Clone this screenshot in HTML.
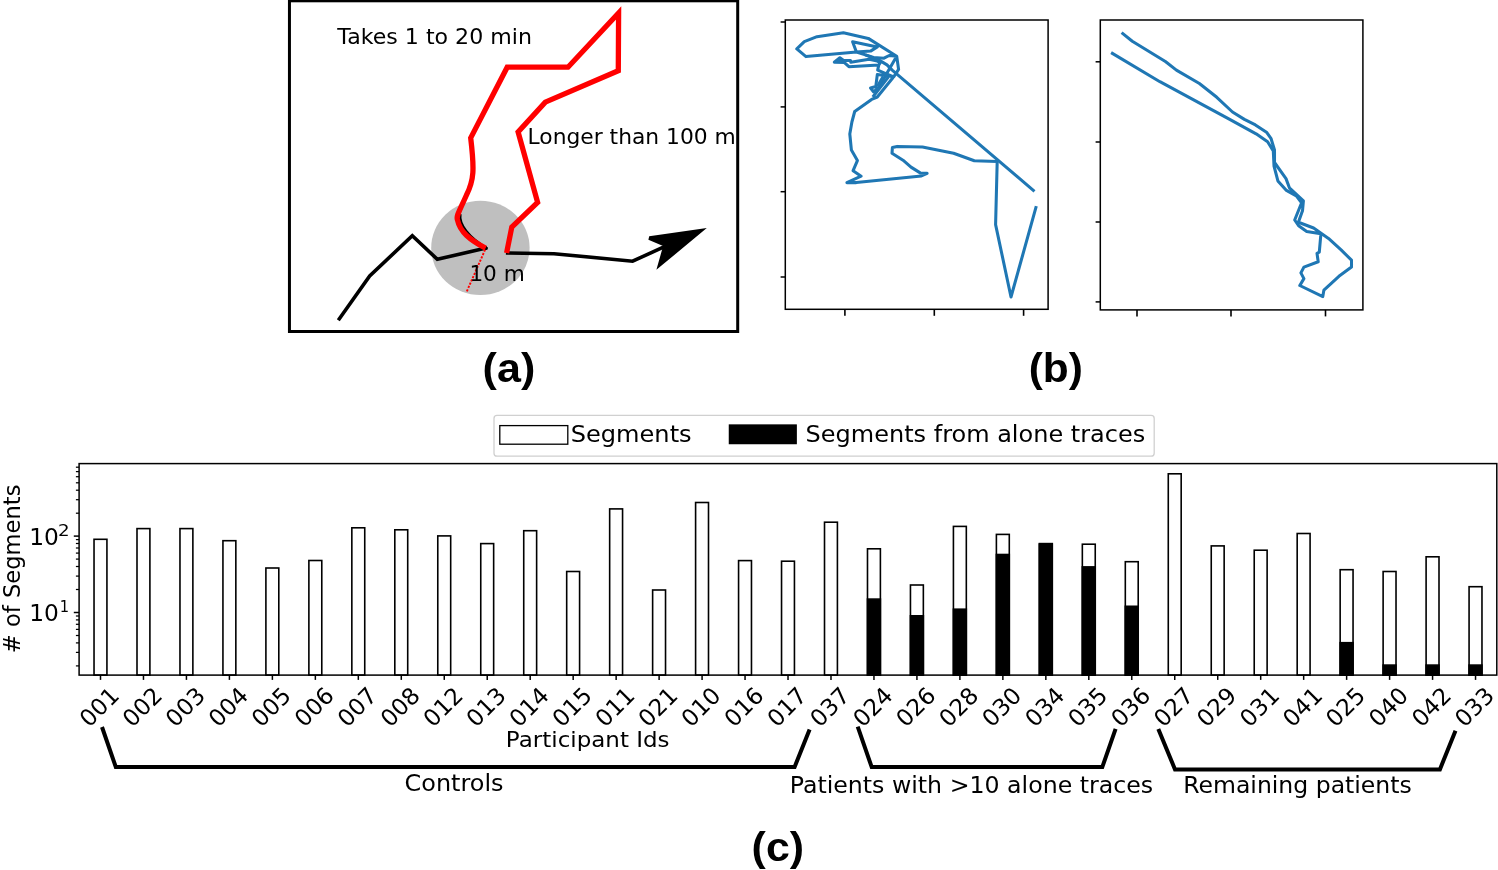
<!DOCTYPE html>
<html lang="en">
<head>
<meta charset="utf-8">
<title>Figure: segment extraction, example traces and number of segments per participant</title>
<style>
html, body { margin: 0; padding: 0; background: #fff; }
body { width: 1498px; height: 870px; overflow: hidden; }
svg { display: block; }
text { white-space: pre; }
</style>
</head>
<body>
<svg width="1498" height="870" viewBox="0 0 1498 870">
<rect x="0" y="0" width="1498" height="870" fill="#fff"/>
<g id="panel-a">
<rect x="289.45" y="0.8" width="448.25" height="330.7" fill="#fff" stroke="#000" stroke-width="3"/>
<ellipse cx="480.4" cy="247.85" rx="49.2" ry="47.15" fill="#bfbfbf"/>
<polyline fill="none" stroke="#000" stroke-width="3.6" stroke-linejoin="miter" points="338.3,320.2 369.7,276.0 412.3,235.7 437.3,259.3 487.2,247.8"/>
<polyline fill="none" stroke="#000" stroke-width="3.6" stroke-linejoin="miter" points="505.9,252.9 554.0,253.7 632.6,261.2 665.0,246.4"/>
<polygon fill="#000" points="706.8,228.1 649.2,236.2 648.4,239.8 663.1,246.0 656.4,269.8"/>
<path fill="none" stroke="#000" stroke-width="2.6" d="M460.3,214 C458.6,224.4 468.6,237.4 487.5,248.8"/>
<path fill="none" stroke="#f00" stroke-width="5.3" stroke-linejoin="miter" stroke-miterlimit="6" d="M485.6,248.2 C470,240 460,232 457.5,220 C456,216 459,212 466.5,195 C474,180 474.5,170 470.7,137.9 L507.2,67.2 L568,67.2 L618.6,13 L618.3,70.7 L545.3,102.1 L518.1,132 L537.6,202.4 L511.8,227 L506.6,252.9"/>
<line x1="485.1" y1="249.7" x2="466.8" y2="291.4" stroke="#f00" stroke-width="1.9" stroke-dasharray="2.2,1.4"/>
<text transform="translate(337.30,44.00) scale(1.0527,1)" font-family='"DejaVu Sans", "Liberation Sans", sans-serif' font-size="21px" fill="#000">Takes 1 to 20 min</text>
<text transform="translate(527.62,144.00) scale(1.0379,1)" font-family='"DejaVu Sans", "Liberation Sans", sans-serif' font-size="21px" fill="#000">Longer than 100 m</text>
<text transform="translate(469.38,280.80) scale(1.0291,1)" font-family='"DejaVu Sans", "Liberation Sans", sans-serif' font-size="21px" fill="#000">10 m</text>
<text transform="translate(482.61,381.80) scale(1.0430,1)" font-family='"Liberation Sans", "DejaVu Sans", sans-serif' font-weight="bold" font-size="41.3px" fill="#000">(a)</text>
</g>
<g id="panel-b">
<rect x="785.3" y="20.0" width="262.8" height="289.3" fill="#fff" stroke="#000" stroke-width="1.5"/>
<line x1="844.9" y1="309.3" x2="844.9" y2="315.8" stroke="#000" stroke-width="1.6"/>
<line x1="934.3" y1="309.3" x2="934.3" y2="315.8" stroke="#000" stroke-width="1.6"/>
<line x1="1023.6" y1="309.3" x2="1023.6" y2="315.8" stroke="#000" stroke-width="1.6"/>
<line x1="780.6" y1="22.0" x2="785.3" y2="22.0" stroke="#000" stroke-width="1.5"/>
<line x1="780.6" y1="106.9" x2="785.3" y2="106.9" stroke="#000" stroke-width="1.5"/>
<line x1="780.6" y1="191.7" x2="785.3" y2="191.7" stroke="#000" stroke-width="1.5"/>
<line x1="780.6" y1="277.0" x2="785.3" y2="277.0" stroke="#000" stroke-width="1.5"/>
<rect x="1100.3" y="20.0" width="262.6" height="289.9" fill="#fff" stroke="#000" stroke-width="1.5"/>
<line x1="1137.0" y1="309.9" x2="1137.0" y2="316.4" stroke="#000" stroke-width="1.6"/>
<line x1="1231.0" y1="309.9" x2="1231.0" y2="316.4" stroke="#000" stroke-width="1.6"/>
<line x1="1325.5" y1="309.9" x2="1325.5" y2="316.4" stroke="#000" stroke-width="1.6"/>
<line x1="1095.6" y1="61.8" x2="1100.3" y2="61.8" stroke="#000" stroke-width="1.5"/>
<line x1="1095.6" y1="142.0" x2="1100.3" y2="142.0" stroke="#000" stroke-width="1.5"/>
<line x1="1095.6" y1="222.0" x2="1100.3" y2="222.0" stroke="#000" stroke-width="1.5"/>
<line x1="1095.6" y1="301.9" x2="1100.3" y2="301.9" stroke="#000" stroke-width="1.5"/>
<polyline fill="none" stroke="#1f77b4" stroke-width="3.05" stroke-linejoin="round" stroke-linecap="butt" points="1036.3,206.2 1011.0,297.0 995.6,224.6 997.2,161.4 974.3,160.7 953.6,153.3 922.5,147.1 897.2,146.4 892.4,147.6 892.0,153.3 903.0,160.2 911.0,167.1 920.2,172.9 927.1,173.3 921.4,175.9 856.3,182.6 846.9,182.6 861.1,176.2 853.1,170.7 857.4,160.6 851.4,150.1 849.8,134.0 851.9,122.0 854.7,111.5 871.6,99.4 877.3,97.0 893.7,76.8 898.6,69.4 896.7,56.3 868.3,38.4 843.4,32.8 817.0,36.7 804.3,41.6 796.8,48.9 806.0,56.6 856.4,52.0 870.6,51.1 877.3,46.9 852.6,41.7 856.4,52.0 873.5,57.4 884.0,58.2 889.2,55.5 896.7,56.3 878.8,87.3 873.5,91.8 870.6,88.0 875.8,86.5 877.3,74.6 893.7,76.8 884.7,73.1 877.7,70.1 878.8,64.9 848.9,66.7 844.4,62.6 834.3,62.3 839.9,57.8 843.7,60.4 850.4,60.4 850.8,62.3 869.1,59.3 877.3,61.1 880.3,62.6 878.8,64.9"/>
<polyline fill="none" stroke="#1f77b4" stroke-width="3.05" stroke-linejoin="round" stroke-linecap="butt" points="865.3,54.8 879.5,60.4 887.0,64.9 892.2,70.1 1034.5,191.3"/>
<polyline fill="none" stroke="#1f77b4" stroke-width="3.05" stroke-linejoin="round" stroke-linecap="butt" points="888.5,76.8 880.3,87.3 872.8,97.0"/>
<polyline fill="none" stroke="#1f77b4" stroke-width="3.05" stroke-linejoin="round" stroke-linecap="butt" points="883.3,76.4 877.3,86.5"/>
<polygon fill="#1f77b4" points="834.3,62.3 839.9,57.8 844.4,62.6"/>
<polyline fill="none" stroke="#1f77b4" stroke-width="3.05" stroke-linejoin="round" stroke-linecap="butt" points="1121.6,32.6 1132.3,41.2 1165.4,61.5 1176.4,70.1 1199.4,83.5 1216.8,97.3 1232.5,112.0 1244.4,119.4 1255.4,124.9 1266.5,132.2 1271.1,138.7 1274.5,149.9 1274.5,162.5 1286.0,178.6 1289.4,187.8 1303.4,200.9 1302.5,210.8 1298.4,222.3 1313.6,228.0 1328.5,238.4 1341.1,249.9 1351.5,260.2 1351.5,267.1 1338.9,276.3 1323.9,290.1 1322.8,296.6 1299.8,285.5 1303.9,278.6 1300.9,272.9 1303.9,267.1 1318.2,261.8 1317.0,253.3 1319.3,252.2 1320.9,233.8 1306.7,231.5 1298.6,225.7 1294.7,220.0 1301.6,202.8 1296.3,195.9 1286.0,190.1 1277.9,180.9 1274.0,166.0 1273.3,151.0 1267.6,141.8 1256.1,133.8 1229.7,119.4 1159.9,81.7 1111.1,52.6"/>
<text transform="translate(1028.64,381.80) scale(1.0277,1)" font-family='"Liberation Sans", "DejaVu Sans", sans-serif' font-weight="bold" font-size="41.3px" fill="#000">(b)</text>
</g>
<g id="panel-c">
<rect x="79.1" y="463.6" width="1417.7" height="211.5" fill="#fff" stroke="none"/>
<rect x="94.03" y="539.3" width="12.9" height="135.8" fill="#fff" stroke="#000" stroke-width="1.6"/>
<rect x="137.00" y="528.6" width="12.9" height="146.5" fill="#fff" stroke="#000" stroke-width="1.6"/>
<rect x="179.97" y="528.6" width="12.9" height="146.5" fill="#fff" stroke="#000" stroke-width="1.6"/>
<rect x="222.94" y="540.7" width="12.9" height="134.4" fill="#fff" stroke="#000" stroke-width="1.6"/>
<rect x="265.90" y="568.0" width="12.9" height="107.1" fill="#fff" stroke="#000" stroke-width="1.6"/>
<rect x="308.88" y="560.5" width="12.9" height="114.6" fill="#fff" stroke="#000" stroke-width="1.6"/>
<rect x="351.84" y="527.8" width="12.9" height="147.3" fill="#fff" stroke="#000" stroke-width="1.6"/>
<rect x="394.81" y="529.8" width="12.9" height="145.3" fill="#fff" stroke="#000" stroke-width="1.6"/>
<rect x="437.78" y="535.9" width="12.9" height="139.2" fill="#fff" stroke="#000" stroke-width="1.6"/>
<rect x="480.75" y="543.6" width="12.9" height="131.5" fill="#fff" stroke="#000" stroke-width="1.6"/>
<rect x="523.73" y="530.7" width="12.9" height="144.4" fill="#fff" stroke="#000" stroke-width="1.6"/>
<rect x="566.69" y="571.5" width="12.9" height="103.6" fill="#fff" stroke="#000" stroke-width="1.6"/>
<rect x="609.66" y="508.9" width="12.9" height="166.2" fill="#fff" stroke="#000" stroke-width="1.6"/>
<rect x="652.63" y="590.0" width="12.9" height="85.1" fill="#fff" stroke="#000" stroke-width="1.6"/>
<rect x="695.60" y="502.5" width="12.9" height="172.6" fill="#fff" stroke="#000" stroke-width="1.6"/>
<rect x="738.57" y="560.6" width="12.9" height="114.5" fill="#fff" stroke="#000" stroke-width="1.6"/>
<rect x="781.54" y="561.2" width="12.9" height="113.9" fill="#fff" stroke="#000" stroke-width="1.6"/>
<rect x="824.51" y="522.2" width="12.9" height="152.9" fill="#fff" stroke="#000" stroke-width="1.6"/>
<rect x="867.49" y="548.8" width="12.9" height="126.3" fill="#fff" stroke="#000" stroke-width="1.6"/>
<rect x="867.49" y="599.1" width="12.9" height="76.0" fill="#000" stroke="#000" stroke-width="1.6"/>
<rect x="910.45" y="585.0" width="12.9" height="90.1" fill="#fff" stroke="#000" stroke-width="1.6"/>
<rect x="910.45" y="615.8" width="12.9" height="59.3" fill="#000" stroke="#000" stroke-width="1.6"/>
<rect x="953.42" y="526.4" width="12.9" height="148.7" fill="#fff" stroke="#000" stroke-width="1.6"/>
<rect x="953.42" y="609.2" width="12.9" height="65.9" fill="#000" stroke="#000" stroke-width="1.6"/>
<rect x="996.39" y="534.4" width="12.9" height="140.7" fill="#fff" stroke="#000" stroke-width="1.6"/>
<rect x="996.39" y="554.5" width="12.9" height="120.6" fill="#000" stroke="#000" stroke-width="1.6"/>
<rect x="1039.37" y="543.6" width="12.9" height="131.5" fill="#fff" stroke="#000" stroke-width="1.6"/>
<rect x="1039.37" y="544.2" width="12.9" height="130.9" fill="#000" stroke="#000" stroke-width="1.6"/>
<rect x="1082.34" y="544.2" width="12.9" height="130.9" fill="#fff" stroke="#000" stroke-width="1.6"/>
<rect x="1082.34" y="566.9" width="12.9" height="108.2" fill="#000" stroke="#000" stroke-width="1.6"/>
<rect x="1125.31" y="561.7" width="12.9" height="113.4" fill="#fff" stroke="#000" stroke-width="1.6"/>
<rect x="1125.31" y="606.3" width="12.9" height="68.8" fill="#000" stroke="#000" stroke-width="1.6"/>
<rect x="1168.28" y="473.8" width="12.9" height="201.3" fill="#fff" stroke="#000" stroke-width="1.6"/>
<rect x="1211.25" y="545.9" width="12.9" height="129.2" fill="#fff" stroke="#000" stroke-width="1.6"/>
<rect x="1254.22" y="550.2" width="12.9" height="124.9" fill="#fff" stroke="#000" stroke-width="1.6"/>
<rect x="1297.18" y="533.5" width="12.9" height="141.6" fill="#fff" stroke="#000" stroke-width="1.6"/>
<rect x="1340.15" y="569.7" width="12.9" height="105.4" fill="#fff" stroke="#000" stroke-width="1.6"/>
<rect x="1340.15" y="642.7" width="12.9" height="32.4" fill="#000" stroke="#000" stroke-width="1.6"/>
<rect x="1383.12" y="571.5" width="12.9" height="103.6" fill="#fff" stroke="#000" stroke-width="1.6"/>
<rect x="1383.12" y="665.1" width="12.9" height="10.0" fill="#000" stroke="#000" stroke-width="1.6"/>
<rect x="1426.10" y="556.8" width="12.9" height="118.3" fill="#fff" stroke="#000" stroke-width="1.6"/>
<rect x="1426.10" y="665.1" width="12.9" height="10.0" fill="#000" stroke="#000" stroke-width="1.6"/>
<rect x="1469.07" y="586.7" width="12.9" height="88.4" fill="#fff" stroke="#000" stroke-width="1.6"/>
<rect x="1469.07" y="665.1" width="12.9" height="10.0" fill="#000" stroke="#000" stroke-width="1.6"/>
<rect x="79.1" y="463.6" width="1417.7" height="211.5" fill="none" stroke="#000" stroke-width="1.5"/>
<line x1="73.8" y1="612.5" x2="79.1" y2="612.5" stroke="#000" stroke-width="1.5"/>
<text transform="translate(29.27,621.20) scale(1.0515,1)" font-family='"DejaVu Sans", "Liberation Sans", sans-serif' font-size="22.2px" fill="#000">10</text>
<text transform="translate(59.63,612.20) scale(0.9538,1)" font-family='"DejaVu Sans", "Liberation Sans", sans-serif' font-size="15.4px" fill="#000">1</text>
<line x1="73.8" y1="536.1" x2="79.1" y2="536.1" stroke="#000" stroke-width="1.5"/>
<text transform="translate(29.27,544.85) scale(1.0515,1)" font-family='"DejaVu Sans", "Liberation Sans", sans-serif' font-size="22.2px" fill="#000">10</text>
<text transform="translate(58.12,535.85) scale(1.1857,1)" font-family='"DejaVu Sans", "Liberation Sans", sans-serif' font-size="15.4px" fill="#000">2</text>
<line x1="75.9" y1="665.9" x2="79.1" y2="665.9" stroke="#000" stroke-width="1.25"/>
<line x1="75.9" y1="652.4" x2="79.1" y2="652.4" stroke="#000" stroke-width="1.25"/>
<line x1="75.9" y1="642.9" x2="79.1" y2="642.9" stroke="#000" stroke-width="1.25"/>
<line x1="75.9" y1="635.5" x2="79.1" y2="635.5" stroke="#000" stroke-width="1.25"/>
<line x1="75.9" y1="629.4" x2="79.1" y2="629.4" stroke="#000" stroke-width="1.25"/>
<line x1="75.9" y1="624.3" x2="79.1" y2="624.3" stroke="#000" stroke-width="1.25"/>
<line x1="75.9" y1="619.9" x2="79.1" y2="619.9" stroke="#000" stroke-width="1.25"/>
<line x1="75.9" y1="616.0" x2="79.1" y2="616.0" stroke="#000" stroke-width="1.25"/>
<line x1="75.9" y1="589.5" x2="79.1" y2="589.5" stroke="#000" stroke-width="1.25"/>
<line x1="75.9" y1="576.1" x2="79.1" y2="576.1" stroke="#000" stroke-width="1.25"/>
<line x1="75.9" y1="566.5" x2="79.1" y2="566.5" stroke="#000" stroke-width="1.25"/>
<line x1="75.9" y1="559.1" x2="79.1" y2="559.1" stroke="#000" stroke-width="1.25"/>
<line x1="75.9" y1="553.1" x2="79.1" y2="553.1" stroke="#000" stroke-width="1.25"/>
<line x1="75.9" y1="548.0" x2="79.1" y2="548.0" stroke="#000" stroke-width="1.25"/>
<line x1="75.9" y1="543.5" x2="79.1" y2="543.5" stroke="#000" stroke-width="1.25"/>
<line x1="75.9" y1="539.6" x2="79.1" y2="539.6" stroke="#000" stroke-width="1.25"/>
<line x1="75.9" y1="513.2" x2="79.1" y2="513.2" stroke="#000" stroke-width="1.25"/>
<line x1="75.9" y1="499.7" x2="79.1" y2="499.7" stroke="#000" stroke-width="1.25"/>
<line x1="75.9" y1="490.2" x2="79.1" y2="490.2" stroke="#000" stroke-width="1.25"/>
<line x1="75.9" y1="482.8" x2="79.1" y2="482.8" stroke="#000" stroke-width="1.25"/>
<line x1="75.9" y1="476.7" x2="79.1" y2="476.7" stroke="#000" stroke-width="1.25"/>
<line x1="75.9" y1="471.6" x2="79.1" y2="471.6" stroke="#000" stroke-width="1.25"/>
<line x1="75.9" y1="467.2" x2="79.1" y2="467.2" stroke="#000" stroke-width="1.25"/>
<line x1="100.50" y1="675.1" x2="100.50" y2="679.9" stroke="#000" stroke-width="1.5"/>
<text transform="translate(105.00,712.6) rotate(-45)" text-anchor="middle" font-family='"DejaVu Sans", "Liberation Sans", sans-serif' font-size="23.2px" fill="#000">001</text>
<line x1="143.47" y1="675.1" x2="143.47" y2="679.9" stroke="#000" stroke-width="1.5"/>
<text transform="translate(147.97,712.6) rotate(-45)" text-anchor="middle" font-family='"DejaVu Sans", "Liberation Sans", sans-serif' font-size="23.2px" fill="#000">002</text>
<line x1="186.44" y1="675.1" x2="186.44" y2="679.9" stroke="#000" stroke-width="1.5"/>
<text transform="translate(190.94,712.6) rotate(-45)" text-anchor="middle" font-family='"DejaVu Sans", "Liberation Sans", sans-serif' font-size="23.2px" fill="#000">003</text>
<line x1="229.41" y1="675.1" x2="229.41" y2="679.9" stroke="#000" stroke-width="1.5"/>
<text transform="translate(233.91,712.6) rotate(-45)" text-anchor="middle" font-family='"DejaVu Sans", "Liberation Sans", sans-serif' font-size="23.2px" fill="#000">004</text>
<line x1="272.38" y1="675.1" x2="272.38" y2="679.9" stroke="#000" stroke-width="1.5"/>
<text transform="translate(276.88,712.6) rotate(-45)" text-anchor="middle" font-family='"DejaVu Sans", "Liberation Sans", sans-serif' font-size="23.2px" fill="#000">005</text>
<line x1="315.35" y1="675.1" x2="315.35" y2="679.9" stroke="#000" stroke-width="1.5"/>
<text transform="translate(319.85,712.6) rotate(-45)" text-anchor="middle" font-family='"DejaVu Sans", "Liberation Sans", sans-serif' font-size="23.2px" fill="#000">006</text>
<line x1="358.32" y1="675.1" x2="358.32" y2="679.9" stroke="#000" stroke-width="1.5"/>
<text transform="translate(362.82,712.6) rotate(-45)" text-anchor="middle" font-family='"DejaVu Sans", "Liberation Sans", sans-serif' font-size="23.2px" fill="#000">007</text>
<line x1="401.29" y1="675.1" x2="401.29" y2="679.9" stroke="#000" stroke-width="1.5"/>
<text transform="translate(405.79,712.6) rotate(-45)" text-anchor="middle" font-family='"DejaVu Sans", "Liberation Sans", sans-serif' font-size="23.2px" fill="#000">008</text>
<line x1="444.26" y1="675.1" x2="444.26" y2="679.9" stroke="#000" stroke-width="1.5"/>
<text transform="translate(448.76,712.6) rotate(-45)" text-anchor="middle" font-family='"DejaVu Sans", "Liberation Sans", sans-serif' font-size="23.2px" fill="#000">012</text>
<line x1="487.23" y1="675.1" x2="487.23" y2="679.9" stroke="#000" stroke-width="1.5"/>
<text transform="translate(491.73,712.6) rotate(-45)" text-anchor="middle" font-family='"DejaVu Sans", "Liberation Sans", sans-serif' font-size="23.2px" fill="#000">013</text>
<line x1="530.20" y1="675.1" x2="530.20" y2="679.9" stroke="#000" stroke-width="1.5"/>
<text transform="translate(534.70,712.6) rotate(-45)" text-anchor="middle" font-family='"DejaVu Sans", "Liberation Sans", sans-serif' font-size="23.2px" fill="#000">014</text>
<line x1="573.17" y1="675.1" x2="573.17" y2="679.9" stroke="#000" stroke-width="1.5"/>
<text transform="translate(577.67,712.6) rotate(-45)" text-anchor="middle" font-family='"DejaVu Sans", "Liberation Sans", sans-serif' font-size="23.2px" fill="#000">015</text>
<line x1="616.14" y1="675.1" x2="616.14" y2="679.9" stroke="#000" stroke-width="1.5"/>
<text transform="translate(620.64,712.6) rotate(-45)" text-anchor="middle" font-family='"DejaVu Sans", "Liberation Sans", sans-serif' font-size="23.2px" fill="#000">011</text>
<line x1="659.11" y1="675.1" x2="659.11" y2="679.9" stroke="#000" stroke-width="1.5"/>
<text transform="translate(663.61,712.6) rotate(-45)" text-anchor="middle" font-family='"DejaVu Sans", "Liberation Sans", sans-serif' font-size="23.2px" fill="#000">021</text>
<line x1="702.08" y1="675.1" x2="702.08" y2="679.9" stroke="#000" stroke-width="1.5"/>
<text transform="translate(706.58,712.6) rotate(-45)" text-anchor="middle" font-family='"DejaVu Sans", "Liberation Sans", sans-serif' font-size="23.2px" fill="#000">010</text>
<line x1="745.05" y1="675.1" x2="745.05" y2="679.9" stroke="#000" stroke-width="1.5"/>
<text transform="translate(749.55,712.6) rotate(-45)" text-anchor="middle" font-family='"DejaVu Sans", "Liberation Sans", sans-serif' font-size="23.2px" fill="#000">016</text>
<line x1="788.02" y1="675.1" x2="788.02" y2="679.9" stroke="#000" stroke-width="1.5"/>
<text transform="translate(792.52,712.6) rotate(-45)" text-anchor="middle" font-family='"DejaVu Sans", "Liberation Sans", sans-serif' font-size="23.2px" fill="#000">017</text>
<line x1="830.99" y1="675.1" x2="830.99" y2="679.9" stroke="#000" stroke-width="1.5"/>
<text transform="translate(835.49,712.6) rotate(-45)" text-anchor="middle" font-family='"DejaVu Sans", "Liberation Sans", sans-serif' font-size="23.2px" fill="#000">037</text>
<line x1="873.96" y1="675.1" x2="873.96" y2="679.9" stroke="#000" stroke-width="1.5"/>
<text transform="translate(878.46,712.6) rotate(-45)" text-anchor="middle" font-family='"DejaVu Sans", "Liberation Sans", sans-serif' font-size="23.2px" fill="#000">024</text>
<line x1="916.93" y1="675.1" x2="916.93" y2="679.9" stroke="#000" stroke-width="1.5"/>
<text transform="translate(921.43,712.6) rotate(-45)" text-anchor="middle" font-family='"DejaVu Sans", "Liberation Sans", sans-serif' font-size="23.2px" fill="#000">026</text>
<line x1="959.90" y1="675.1" x2="959.90" y2="679.9" stroke="#000" stroke-width="1.5"/>
<text transform="translate(964.40,712.6) rotate(-45)" text-anchor="middle" font-family='"DejaVu Sans", "Liberation Sans", sans-serif' font-size="23.2px" fill="#000">028</text>
<line x1="1002.87" y1="675.1" x2="1002.87" y2="679.9" stroke="#000" stroke-width="1.5"/>
<text transform="translate(1007.37,712.6) rotate(-45)" text-anchor="middle" font-family='"DejaVu Sans", "Liberation Sans", sans-serif' font-size="23.2px" fill="#000">030</text>
<line x1="1045.84" y1="675.1" x2="1045.84" y2="679.9" stroke="#000" stroke-width="1.5"/>
<text transform="translate(1050.34,712.6) rotate(-45)" text-anchor="middle" font-family='"DejaVu Sans", "Liberation Sans", sans-serif' font-size="23.2px" fill="#000">034</text>
<line x1="1088.81" y1="675.1" x2="1088.81" y2="679.9" stroke="#000" stroke-width="1.5"/>
<text transform="translate(1093.31,712.6) rotate(-45)" text-anchor="middle" font-family='"DejaVu Sans", "Liberation Sans", sans-serif' font-size="23.2px" fill="#000">035</text>
<line x1="1131.78" y1="675.1" x2="1131.78" y2="679.9" stroke="#000" stroke-width="1.5"/>
<text transform="translate(1136.28,712.6) rotate(-45)" text-anchor="middle" font-family='"DejaVu Sans", "Liberation Sans", sans-serif' font-size="23.2px" fill="#000">036</text>
<line x1="1174.75" y1="675.1" x2="1174.75" y2="679.9" stroke="#000" stroke-width="1.5"/>
<text transform="translate(1179.25,712.6) rotate(-45)" text-anchor="middle" font-family='"DejaVu Sans", "Liberation Sans", sans-serif' font-size="23.2px" fill="#000">027</text>
<line x1="1217.72" y1="675.1" x2="1217.72" y2="679.9" stroke="#000" stroke-width="1.5"/>
<text transform="translate(1222.22,712.6) rotate(-45)" text-anchor="middle" font-family='"DejaVu Sans", "Liberation Sans", sans-serif' font-size="23.2px" fill="#000">029</text>
<line x1="1260.69" y1="675.1" x2="1260.69" y2="679.9" stroke="#000" stroke-width="1.5"/>
<text transform="translate(1265.19,712.6) rotate(-45)" text-anchor="middle" font-family='"DejaVu Sans", "Liberation Sans", sans-serif' font-size="23.2px" fill="#000">031</text>
<line x1="1303.66" y1="675.1" x2="1303.66" y2="679.9" stroke="#000" stroke-width="1.5"/>
<text transform="translate(1308.16,712.6) rotate(-45)" text-anchor="middle" font-family='"DejaVu Sans", "Liberation Sans", sans-serif' font-size="23.2px" fill="#000">041</text>
<line x1="1346.63" y1="675.1" x2="1346.63" y2="679.9" stroke="#000" stroke-width="1.5"/>
<text transform="translate(1351.13,712.6) rotate(-45)" text-anchor="middle" font-family='"DejaVu Sans", "Liberation Sans", sans-serif' font-size="23.2px" fill="#000">025</text>
<line x1="1389.60" y1="675.1" x2="1389.60" y2="679.9" stroke="#000" stroke-width="1.5"/>
<text transform="translate(1394.10,712.6) rotate(-45)" text-anchor="middle" font-family='"DejaVu Sans", "Liberation Sans", sans-serif' font-size="23.2px" fill="#000">040</text>
<line x1="1432.57" y1="675.1" x2="1432.57" y2="679.9" stroke="#000" stroke-width="1.5"/>
<text transform="translate(1437.07,712.6) rotate(-45)" text-anchor="middle" font-family='"DejaVu Sans", "Liberation Sans", sans-serif' font-size="23.2px" fill="#000">042</text>
<line x1="1475.54" y1="675.1" x2="1475.54" y2="679.9" stroke="#000" stroke-width="1.5"/>
<text transform="translate(1480.04,712.6) rotate(-45)" text-anchor="middle" font-family='"DejaVu Sans", "Liberation Sans", sans-serif' font-size="23.2px" fill="#000">033</text>
<text transform="translate(20.2,653.14) rotate(-90) scale(0.9964,1)" font-family='"DejaVu Sans", "Liberation Sans", sans-serif' font-size="22.7px" fill="#000"># of Segments</text>
<text transform="translate(505.85,746.55) scale(1.0454,1)" font-family='"DejaVu Sans", "Liberation Sans", sans-serif' font-size="22.0px" fill="#000">Participant Ids</text>
<rect x="494" y="415.4" width="660.2" height="40.8" rx="3" ry="3" fill="#fff" stroke="#d0d0d0" stroke-width="1.3"/>
<rect x="499.8" y="425.6" width="68" height="18.6" fill="#fff" stroke="#000" stroke-width="1.3"/>
<text transform="translate(570.69,441.60) scale(1.0761,1)" font-family='"DejaVu Sans", "Liberation Sans", sans-serif' font-size="22.4px" fill="#000">Segments</text>
<rect x="729.4" y="425" width="66.8" height="18.6" fill="#000" stroke="#000" stroke-width="1.3"/>
<text transform="translate(805.59,441.60) scale(1.0719,1)" font-family='"DejaVu Sans", "Liberation Sans", sans-serif' font-size="22.4px" fill="#000">Segments from alone traces</text>
<polyline fill="none" stroke="#000" stroke-width="4" stroke-linejoin="miter" points="102.0,727.0 115.8,767.0 794.6,767.0 809.6,729.6"/>
<polyline fill="none" stroke="#000" stroke-width="4" stroke-linejoin="miter" points="857.7,726.7 871.7,767.1 1102.3,767.1 1115.6,728.9"/>
<polyline fill="none" stroke="#000" stroke-width="4" stroke-linejoin="miter" points="1158.3,728.9 1175.0,769.4 1439.9,769.4 1455.5,730.8"/>
<text transform="translate(404.60,790.90) scale(1.0404,1)" font-family='"DejaVu Sans", "Liberation Sans", sans-serif' font-size="23.0px" fill="#000">Controls</text>
<text transform="translate(789.68,792.70) scale(1.0291,1)" font-family='"DejaVu Sans", "Liberation Sans", sans-serif' font-size="23.0px" fill="#000">Patients with &gt;10 alone traces</text>
<text transform="translate(1183.19,792.70) scale(1.0245,1)" font-family='"DejaVu Sans", "Liberation Sans", sans-serif' font-size="23.0px" fill="#000">Remaining patients</text>
<text transform="translate(751.62,861.00) scale(1.0387,1)" font-family='"Liberation Sans", "DejaVu Sans", sans-serif' font-weight="bold" font-size="41.3px" fill="#000">(c)</text>
</g>
</svg>
</body>
</html>
